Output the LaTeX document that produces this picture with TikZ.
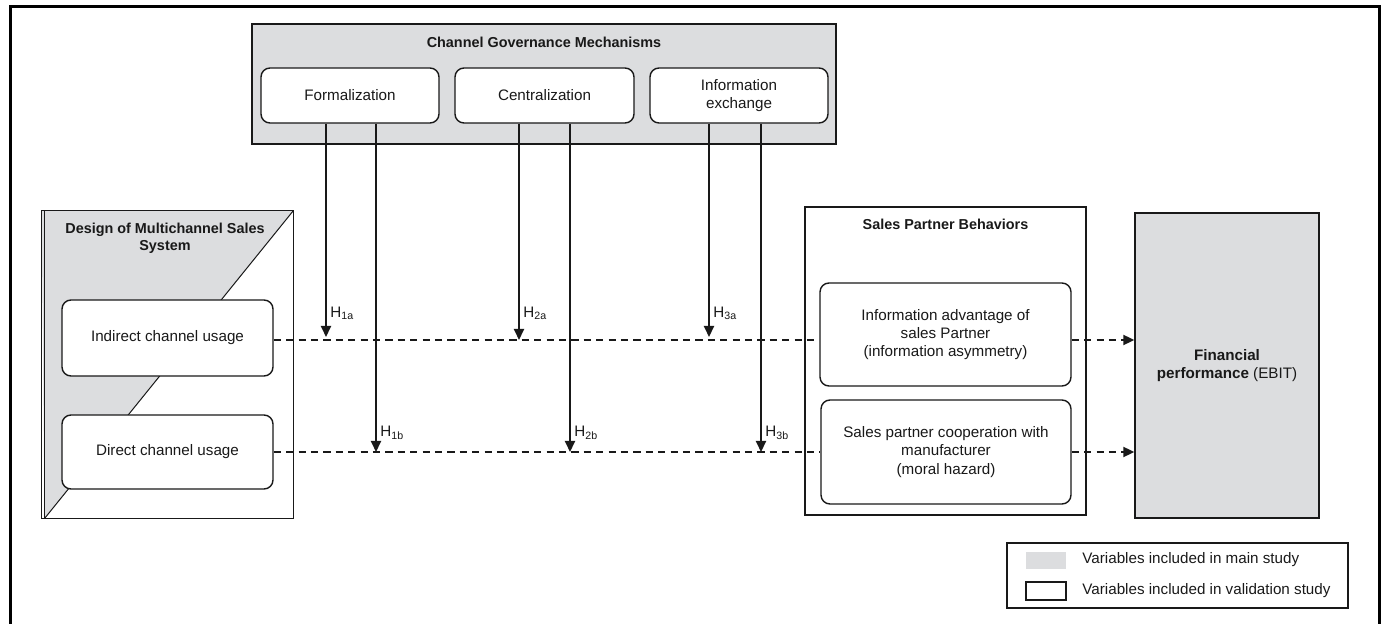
\documentclass[tikz,border=0pt]{standalone}
\usepackage{fontspec}
\setmainfont{Liberation Sans}
\usetikzlibrary{arrows.meta}
\definecolor{boxgray}{RGB}{220,221,223}
\definecolor{ink}{RGB}{25,25,25}
\begin{document}
\begin{tikzpicture}[x=0.5pt,y=-0.5pt,
  every node/.style={font=\fontsize{7.6}{9.2}\selectfont, text=ink, align=center, inner sep=0pt},
  rbox/.style={draw=ink, line width=0.7pt, rounded corners=4.5pt, fill=white},
  plainbox/.style={draw=ink, line width=0.7pt},
  titletext/.style={font=\fontsize{7.2}{8.6}\selectfont\bfseries},
  hyp/.style={-{Triangle[width=5pt,length=5.5pt]}, line width=1pt, draw=ink},
  dsh/.style={dash pattern=on 3.6pt off 2.6pt, line width=1pt, draw=ink},
  dsharrow/.style={dsh, -{Triangle[width=5pt,length=5.5pt]}},
  hlabel/.style={anchor=base west}
]
\useasboundingbox (0,0) rectangle (1381,624);
\draw[line width=1.5pt] (10,624) -- (10,7) -- (1379,7) -- (1379,624);

% Channel governance mechanisms
\node[plainbox, fill=boxgray, minimum width=292pt, minimum height=60pt] (cgm) at (544,84) {};
\node[titletext] (cgmt) at (544,42) {Channel Governance Mechanisms};
\node[rbox, minimum width=89pt, minimum height=27.5pt] (form) at (350,95.5) {Formalization};
\node[rbox, minimum width=89.5pt, minimum height=27.5pt] (cent) at (544.5,95.5) {Centralization};
\node[rbox, minimum width=89pt, minimum height=27.5pt] (infx) at (739,95.5) {Information\\exchange};

% Design of multichannel sales system
\node[minimum width=125.5pt, minimum height=153.5pt] (dms) at (167.5,364.5) {};
\fill[boxgray] (dms.north west) -- (dms.north east) -- ([xshift=1.5pt]dms.south west) -- cycle;
\draw[line width=0.7pt, draw=ink] (dms.north west) rectangle (dms.south east);
\draw[line width=0.5pt, draw=ink] ([xshift=1.5pt]dms.north west) -- ([xshift=1.5pt]dms.south west);
\draw[line width=0.5pt, draw=ink] (dms.north east) -- ([xshift=1.5pt]dms.south west);
\node[titletext] (dmst) at (165,238.5) {Design of Multichannel Sales\\System};
\node[rbox, minimum width=105.5pt, minimum height=38pt] (ind) at (167.5,338) {Indirect channel usage};
\node[rbox, minimum width=105.5pt, minimum height=37pt] (dir) at (167.5,452) {Direct channel usage};

% Sales partner behaviors
\node[plainbox, minimum width=140.5pt, minimum height=154pt] (spb) at (945.5,361) {};
\node[titletext] (spbt) at (945.5,224) {Sales Partner Behaviors};
\node[rbox, minimum width=125.5pt, minimum height=51.5pt] (adv) at (945.5,334.5) {Information advantage of\\sales Partner\\(information asymmetry)};
\node[rbox, minimum width=125pt, minimum height=52pt] (coop) at (946,452) {Sales partner cooperation with\\manufacturer\\(moral hazard)};

% Financial performance
\node[plainbox, fill=boxgray, minimum width=92pt, minimum height=152.5pt] (fin) at (1227,365.5) {\textbf{Financial}\\\textbf{performance} (EBIT)};

% main paths
\coordinate (la) at (0,340);
\coordinate (lb) at (0,452);
\draw[dsh] (ind.east |- la) -- (adv.west |- la);
\draw[dsh] (dir.east |- lb) -- (coop.west |- lb);
\draw[dsharrow] (adv.east |- la) -- (fin.west |- la);
\draw[dsharrow] (coop.east |- lb) -- (fin.west |- lb);

% moderating arrows
\coordinate (h1a) at (326,340);
\coordinate (h1b) at (376,452);
\coordinate (h2a) at (519,340);
\coordinate (h2b) at (570,452);
\coordinate (h3a) at (709,340);
\coordinate (h3b) at (761,452);
\draw[hyp] (form.south -| h1a) -- ([yshift=1.5pt]h1a);
\draw[hyp] (form.south -| h1b) -- (h1b);
\draw[hyp] (cent.south -| h2a) -- (h2a);
\draw[hyp] (cent.south -| h2b) -- (h2b);
\draw[hyp] (infx.south -| h3a) -- ([yshift=1.5pt]h3a);
\draw[hyp] (infx.south -| h3b) -- (h3b);
\node[hlabel] (l1a) at (330,318) {H\textsubscript{1a}};
\node[hlabel] (l1b) at (380,437) {H\textsubscript{1b}};
\node[hlabel] (l2a) at (523,318) {H\textsubscript{2a}};
\node[hlabel] (l2b) at (574,437) {H\textsubscript{2b}};
\node[hlabel] (l3a) at (713,318) {H\textsubscript{3a}};
\node[hlabel] (l3b) at (765,437) {H\textsubscript{3b}};

% legend
\node[plainbox, minimum width=170.5pt, minimum height=32.5pt] (leg) at (1177.5,575.5) {};
\node[fill=boxgray, minimum width=20pt, minimum height=8.5pt] (sw1) at (1046,560.5) {};
\node[plainbox, fill=white, minimum width=20pt, minimum height=9pt] (sw2) at (1046,591) {};
\node[anchor=west] (lt1) at (1082,560) {Variables included in main study};
\node[anchor=west] (lt2) at (1082,591) {Variables included in validation study};
\end{tikzpicture}
\end{document}
